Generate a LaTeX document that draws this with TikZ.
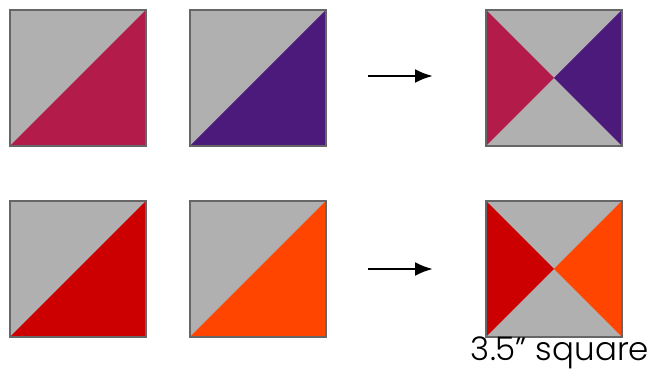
\documentclass[tikz,border=0pt]{standalone}
\usepackage{fontspec}
\setmainfont{Poppins}[UprightFont=* Light]
\usepackage{tikz}
\usetikzlibrary{arrows.meta}
\definecolor{qgray}{RGB}{176,176,176}
\definecolor{qedge}{RGB}{102,102,102}
\definecolor{qcrimson}{RGB}{179,27,75}
\definecolor{qpurple}{RGB}{75,26,122}
\definecolor{qred}{RGB}{204,0,0}
\definecolor{qorange}{RGB}{255,69,0}

\begin{document}
\begin{tikzpicture}[x=0.02cm,y=-0.02cm,
  edge/.style={qedge, line width=0.9pt},
  flow/.style={black, line width=1.5pt, -{Latex[length=3.6mm,width=2.8mm]}}]
\useasboundingbox (0,0) rectangle (654,371);
% top row: two half-square triangles
\fill[qgray] (10,10) rectangle (146,146);
\fill[qcrimson] (10,146) -- (146,10) -- (146,146) -- cycle;
\draw[edge] (10,10) rectangle (146,146);
\fill[qgray] (190,10) rectangle (326,146);
\fill[qpurple] (190,146) -- (326,10) -- (326,146) -- cycle;
\draw[edge] (190,10) rectangle (326,146);
% top row: quarter-square triangle
\fill[qgray] (486,10) rectangle (622,146);
\fill[qcrimson] (486,10) -- (554,78) -- (486,146) -- cycle;
\fill[qpurple] (622,10) -- (554,78) -- (622,146) -- cycle;
\draw[edge] (486,10) rectangle (622,146);
\coordinate (topfrom) at (368,76);
\coordinate (topto) at (433,76);
\draw[flow] (topfrom) -- (topto);
% bottom row: two half-square triangles
\fill[qgray] (10,201) rectangle (146,337);
\fill[qred] (10,337) -- (146,201) -- (146,337) -- cycle;
\draw[edge] (10,201) rectangle (146,337);
\fill[qgray] (190,201) rectangle (326,337);
\fill[qorange] (190,337) -- (326,201) -- (326,337) -- cycle;
\draw[edge] (190,201) rectangle (326,337);
% bottom row: quarter-square triangle
\fill[qgray] (486,201) rectangle (622,337);
\fill[qred] (486,201) -- (554,269) -- (486,337) -- cycle;
\fill[qorange] (622,201) -- (554,269) -- (622,337) -- cycle;
\draw[edge] (486,201) rectangle (622,337);
\coordinate (botfrom) at (368,269);
\coordinate (botto) at (433,269);
\draw[flow] (botfrom) -- (botto);
\node[anchor=base, font=\fontsize{18.5}{22}\selectfont, inner sep=0pt] (size) at (560,361) {3.5” square};
\end{tikzpicture}
\end{document}
